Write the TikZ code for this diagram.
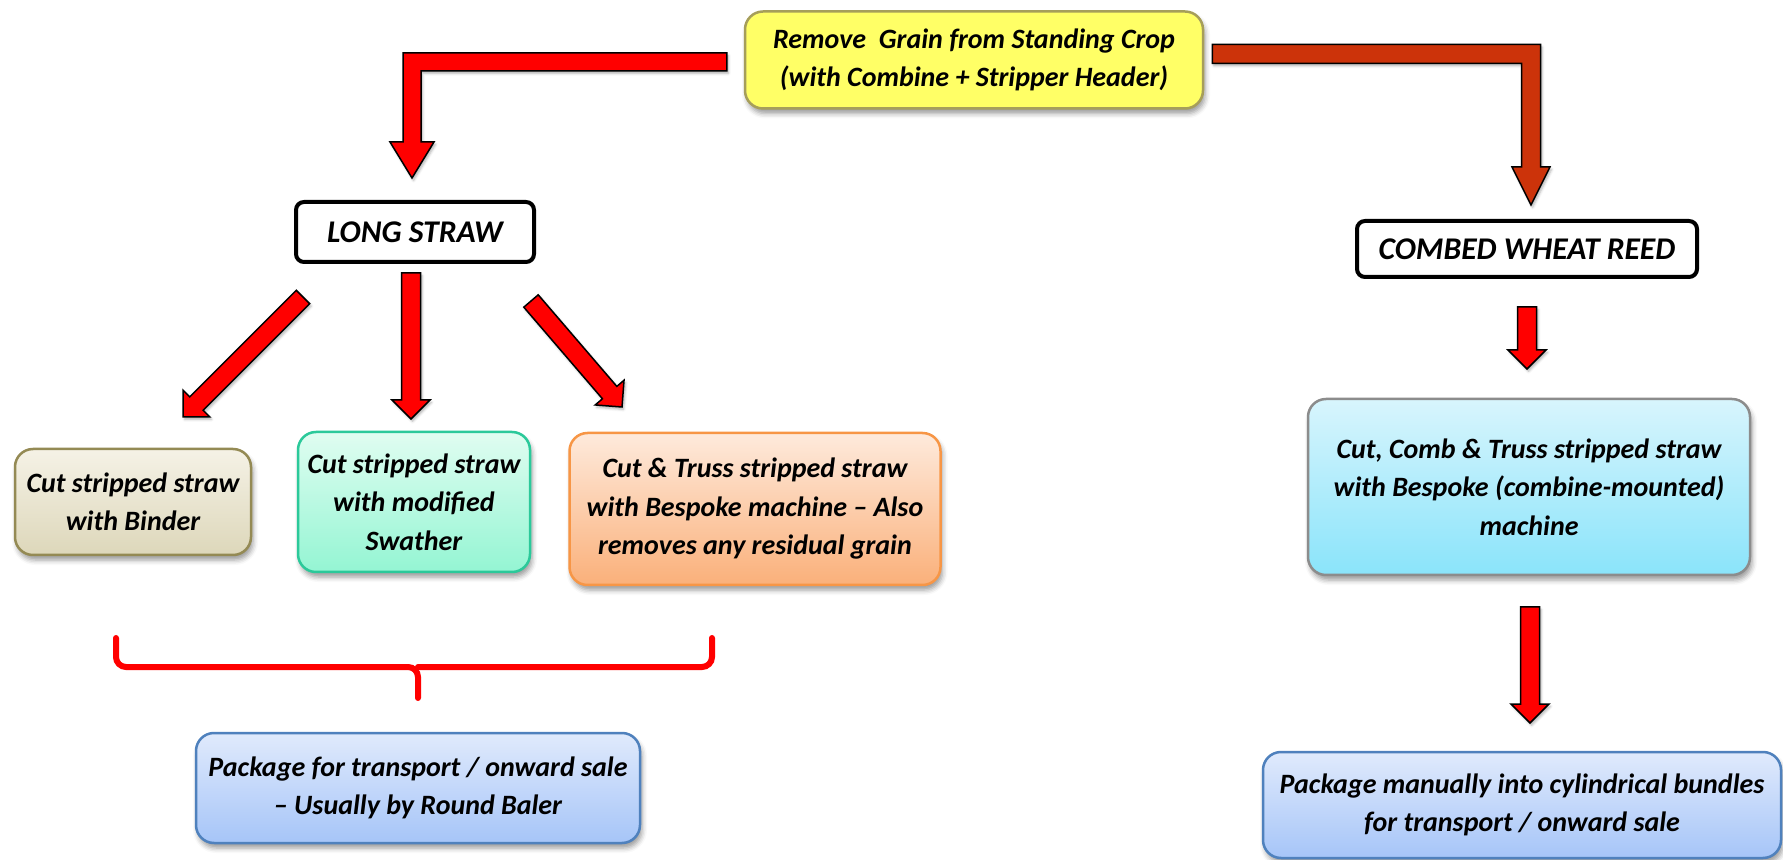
\documentclass[tikz,border=0pt]{standalone}
\usepackage{fontspec}
\setmainfont{Carlito}
\usetikzlibrary{calc,shadows.blur}
\definecolor{rust}{RGB}{204,51,10}
\definecolor{ylw}{RGB}{255,255,102}
\definecolor{ylwline}{RGB}{166,158,90}
\definecolor{tanA}{RGB}{245,242,230}
\definecolor{tanB}{RGB}{221,215,186}
\definecolor{tanline}{RGB}{148,138,84}
\definecolor{mintA}{RGB}{224,253,241}
\definecolor{mintB}{RGB}{148,245,211}
\definecolor{mintline}{RGB}{43,201,154}
\definecolor{peachA}{RGB}{254,234,220}
\definecolor{peachB}{RGB}{250,176,122}
\definecolor{peachline}{RGB}{247,150,70}
\definecolor{skyA}{RGB}{224,234,252}
\definecolor{skyB}{RGB}{166,197,248}
\definecolor{skyline}{RGB}{79,129,189}
\definecolor{cyanA}{RGB}{216,245,253}
\definecolor{cyanB}{RGB}{138,228,250}
\definecolor{cyanline}{RGB}{140,140,140}
\tikzset{
    box/.style={rounded corners=9pt, line width=1.25pt, align=center, inner sep=2pt,
      font=\fontsize{14}{19.25}\selectfont\bfseries\itshape,
      blur shadow={shadow xshift=1pt, shadow yshift=-2.5pt, shadow blur radius=2.5pt, shadow opacity=40}},
    title/.style={rounded corners=4pt, draw=black, line width=2pt, fill=white,
      font=\fontsize{15.8}{18}\selectfont\bfseries\itshape},
    fat/.style={draw=black, line width=0.75pt, line join=miter,
      blur shadow={shadow xshift=0.8pt, shadow yshift=-1.2pt, shadow blur radius=1.2pt, shadow opacity=30}},
    brace/.style={draw=red, line width=3pt, rounded corners=5pt, line cap=round},
  }
% straight block arrow from #2 (tail) to #3 (tip)
\newcommand{\fatarrow}[3][red]{%
  \path ($(#3)!9.5pt!(#2)$) coordinate (h);
  \draw[fat, fill=#1] ($(#2)!4.75pt!90:(#3)$) -- ($(h)!4.75pt!90:(#3)$) -- ($(h)!9.5pt!90:(#3)$) -- (#3)
    -- ($(h)!9.5pt!-90:(#3)$) -- ($(h)!4.75pt!-90:(#3)$) -- ($(#2)!4.75pt!-90:(#3)$) -- cycle;
}
\begin{document}
\begin{tikzpicture}[x=0.5pt, y=-0.5pt]
			          \useasboundingbox (0,0) rectangle (1783,860);
				  %boxes
				  \node[box, fill=ylw, draw=ylwline, minimum width=229pt, minimum height=48.5pt] (R) at (974,60) {Remove\ \ Grain from Standing Crop\\(with Combine + Stripper Header)};
				  \node[title, minimum width=119pt, minimum height=30pt] (L) at (415,232) {LONG STRAW};
				  \node[title, minimum width=170pt, minimum height=28pt] (W) at (1527,249) {COMBED WHEAT REED};
				  \node[box, top color=tanA, bottom color=tanB, draw=tanline, minimum width=118pt, minimum height=53pt] (B) at (133,502) {Cut stripped straw\\with Binder};
				  \node[box, top color=mintA, bottom color=mintB, draw=mintline, minimum width=116pt, minimum height=70pt] (S) at (414,502) {Cut stripped straw\\with modified\\Swather};
				  \node[box, top color=peachA, bottom color=peachB, draw=peachline, minimum width=185.5pt, minimum height=76pt] (T) at (755,509) {Cut \& Truss stripped straw\\with Bespoke machine – Also\\removes any residual grain};
				  \node[box, top color=skyA, bottom color=skyB, draw=skyline, minimum width=222pt, minimum height=55pt] (P) at (418,788) {Package for transport / onward sale\\– Usually by Round Baler};
				  \node[box, top color=cyanA, bottom color=cyanB, draw=cyanline, minimum width=221pt, minimum height=88pt] (C) at (1529,487) {Cut, Comb \& Truss stripped straw\\with Bespoke (combine-mounted)\\machine};
				  \node[box, top color=skyA, bottom color=skyB, draw=skyline, minimum width=259pt, minimum height=53pt] (Q) at (1522,805) {Package manually into cylindrical bundles\\for transport / onward sale};
				  
				  %arrow ends
				  \coordinate(A1) at ($(R.west)+(-17,2)$);
				  \coordinate(K1) at (412,62);
				  \coordinate(E1) at (412,178);
				  \coordinate(A2) at ($(R.east)+(8,-6)$);
				  \coordinate(K2) at (1531,54);
				  \coordinate(E2) at (1531,205);
				  \coordinate(D1) at (303,297);
				  \coordinate(F1) at (183,417);
				  \coordinate(D2) at (411,273);
				  \coordinate(F2) at (411,419);
				  \coordinate(D3) at (531,301);
				  \coordinate(F3) at (622,407);
				  \coordinate(D4) at (1527,307);
				  \coordinate(F4) at (1527,369);
				  \coordinate(D5) at (1530,607);
				  \coordinate(F5) at (1530,723);
				  
				  %elbow arrows
				  \draw[fat, fill=red] ($(A1)+(0,-9)$) -- ($(K1)+(-9,-9)$) -- ($(E1)+(-9,-36)$) -- ($(E1)+(-22,-36)$) -- (E1)
				      -- ($(E1)+(22,-36)$) -- ($(E1)+(9,-36)$) -- ($(K1)+(9,9)$) -- ($(A1)+(0,9)$) -- cycle;
				  \draw[fat, fill=rust] ($(A2)+(0,-9.5)$) -- ($(K2)+(9.5,-9.5)$) -- ($(E2)+(9.5,-38)$) -- ($(E2)+(19,-38)$) -- (E2)
				      -- ($(E2)+(-19,-38)$) -- ($(E2)+(-9.5,-38)$) -- ($(K2)+(-9.5,9.5)$) -- ($(A2)+(0,9.5)$) -- cycle;
				  
				  \fatarrow{D1}{F1}
				  \fatarrow{D2}{F2}
				  \fatarrow{D3}{F3}
				  \fatarrow{D4}{F4}
				  \fatarrow{D5}{F5}
				  
				  %brace
				  \draw[brace] (116,638) |- (418,667) -- (418,698);
				  \draw[brace] (712,638) |- (418,667);
				  \end{tikzpicture}
\end{document}
